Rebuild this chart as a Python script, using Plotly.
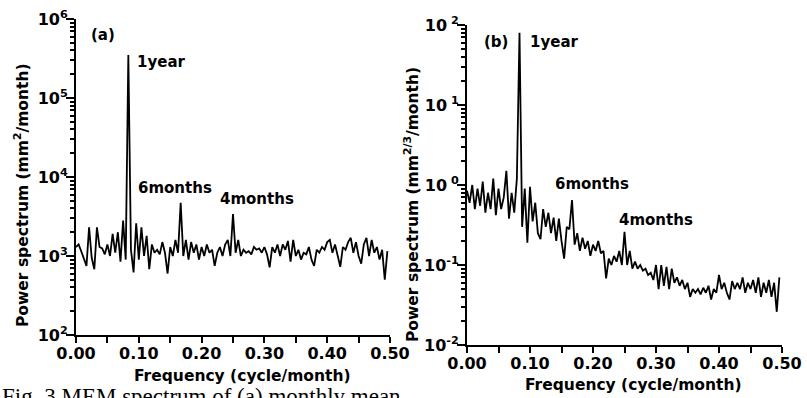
import plotly.graph_objects as go

# ---------------- data ----------------
N_STEPS = 240  # frequency step = 1/240 cycle/month
freq_a = [i / N_STEPS for i in range(120)]
power_a = [
    1300, 1400, 1150, 900, 750, 2300, 950, 680, 2300, 1300,
    1250, 1050, 1400, 1000, 1900, 1100, 2000, 850, 2800, 900,
    350000, 1200, 620, 2600, 900, 2300, 1000, 1800, 680, 1400,
    1100, 1200, 1050, 1500, 1100, 600, 1300, 1000, 1600, 1100,
    4700, 1000, 1600, 900, 1500, 1100, 1400, 900, 1300, 1000,
    1400, 1100, 1200, 750, 1100, 1300, 1000, 1400, 1600, 1000,
    3400, 1100, 1600, 1000, 1200, 1100, 1150, 1050, 1300, 1200,
    1250, 1100, 1300, 1050, 720, 1300, 1100, 1400, 1000, 1400,
    1200, 1550, 850, 1600, 1000, 1200, 900, 1100, 1050, 1300,
    900, 750, 1200, 1100, 1300, 1200, 1500, 1600, 1100, 1400,
    1000, 730, 1300, 1200, 1500, 1700, 1100, 1500, 1000, 800,
    1400, 1700, 1000, 1600, 1100, 1300, 900, 1200, 500, 1150,
]
freq_b = [i / N_STEPS for i in range(120)]
power_b = [
    0.85, 0.6, 1.0, 0.5, 0.9, 0.55, 1.1, 0.45, 0.8, 0.5,
    1.2, 0.42, 0.9, 0.5, 0.7, 1.5, 0.38, 0.8, 0.45, 1.2,
    80, 0.3, 0.9, 0.19, 0.95, 0.35, 0.6, 0.25, 0.21, 0.5,
    0.3, 0.45, 0.25, 0.39, 0.2, 0.38, 0.2, 0.12, 0.3, 0.28,
    0.65, 0.18, 0.25, 0.15, 0.22, 0.16, 0.2, 0.13, 0.18, 0.15,
    0.2, 0.14, 0.15, 0.068, 0.12, 0.1, 0.13, 0.11, 0.15, 0.1,
    0.26, 0.1, 0.15, 0.09, 0.11, 0.09, 0.1, 0.085, 0.09, 0.075,
    0.08, 0.065, 0.1, 0.05, 0.1, 0.055, 0.095, 0.05, 0.09, 0.06,
    0.07, 0.055, 0.065, 0.05, 0.06, 0.04, 0.05, 0.045, 0.05, 0.043,
    0.052, 0.045, 0.055, 0.037, 0.05, 0.045, 0.075, 0.05, 0.06, 0.045,
    0.037, 0.063, 0.05, 0.06, 0.05, 0.07, 0.045, 0.06, 0.05, 0.065,
    0.045, 0.07, 0.04, 0.06, 0.045, 0.065, 0.04, 0.06, 0.026, 0.07,
]
x_tickvals = [0.0, 0.1, 0.2, 0.3, 0.4, 0.5]
x_ticktext = ["0.00", "0.10", "0.20", "0.30", "0.40", "0.50"]
ya_tickvals = [1e2, 1e3, 1e4, 1e5, 1e6]
ya_ticktext = ["10<sup>2</sup>", "10<sup>3</sup>", "10<sup>4</sup>", "10<sup>5</sup>", "10<sup>6</sup>"]
yb_tickvals = [1e-2, 1e-1, 1e0, 1e1, 1e2]
yb_ticktext = ["10<sup>-2</sup>", "10<sup>-1</sup>", "10<sup> 0</sup>", "10<sup> 1</sup>", "10<sup> 2</sup>"]

# ---------------- figure ----------------
W, H = 807, 398
FONT = "DejaVu Sans"


def px(x):
    return x / W


def py(y):
    return 1 - y / H


fig = go.Figure()
fig.add_trace(go.Scatter(x=freq_a, y=power_a, mode="lines",
                         line=dict(color="black", width=1.8),
                         xaxis="x", yaxis="y", showlegend=False))
fig.add_trace(go.Scatter(x=freq_b, y=power_b, mode="lines",
                         line=dict(color="black", width=1.8),
                         xaxis="x2", yaxis="y2", showlegend=False))


def minor_log(lo, hi):
    vals = []
    for d in range(lo, hi):
        for k in range(2, 10):
            vals.append(k * 10.0 ** d)
    return vals


xcommon = dict(range=[0, 0.5], tickvals=x_tickvals, ticktext=x_ticktext,
               ticks="outside", ticklen=6, tickwidth=2, tickcolor="black",
               ticklabelstandoff=-3,
               showline=True, linecolor="black", linewidth=2,
               showgrid=False, zeroline=False, automargin=False,
               minor=dict(tickvals=[0.05, 0.15, 0.25, 0.35, 0.45], ticks="outside",
                          ticklen=6, tickwidth=2, tickcolor="black", showgrid=False),
               tickfont=dict(family=FONT, size=16, color="black", weight="bold"))

ycommon = dict(type="log", ticks="outside", ticklen=8, tickwidth=2, tickcolor="black",
               ticklabelstandoff=-5,
               showline=True, linecolor="black", linewidth=2,
               showgrid=False, zeroline=False, automargin=False,
               tickfont=dict(family=FONT, size=16, color="black", weight="bold"))

fig.update_layout(
    template="none",
    width=W, height=H,
    margin=dict(l=0, r=0, t=0, b=0, pad=0),
    paper_bgcolor="white", plot_bgcolor="white",
    font=dict(family=FONT, color="black"),
    xaxis=dict(domain=[px(76), px(390)], anchor="y", **xcommon),
    yaxis=dict(domain=[py(335), py(19)], anchor="x", range=[2, 6],
               tickvals=ya_tickvals, ticktext=ya_ticktext,
               minor=dict(tickvals=minor_log(2, 6), ticks="outside", ticklen=4,
                          tickwidth=1.5, tickcolor="black", showgrid=False),
               **ycommon),
    xaxis2=dict(domain=[px(467), px(782)], anchor="y2", **xcommon),
    yaxis2=dict(domain=[py(345), py(25)], anchor="x2", range=[-2, 2],
                tickvals=yb_tickvals, ticktext=yb_ticktext,
                minor=dict(tickvals=minor_log(-2, 2), ticks="outside", ticklen=4,
                           tickwidth=1.5, tickcolor="black", showgrid=False),
                **ycommon),
)


def label(text, x, y, size=15, angle=0, family=FONT, weight="bold", xanchor="center", yanchor="middle"):
    fig.add_annotation(text=text, x=px(x), y=py(y), xref="paper", yref="paper",
                       showarrow=False, textangle=angle, xanchor=xanchor, yanchor=yanchor,
                       font=dict(family=family, size=size, color="black", weight=weight))


# panel texts
label("(a)", 103, 35)
label("1year", 161, 62)
label("6months", 175, 188)
label("4months", 257, 199)
label("(b)", 496, 42)
label("1year", 554, 42)
label("6months", 592, 184)
label("4months", 656, 220)

# axis titles
label("Power spectrum (mm<sup>2</sup>/month)", 22, 195, size=15.5, angle=-90)
label("Power spectrum (mm<sup>2/3</sup>/month)", 412, 205, size=15.5, angle=-90)
label("Frequency (cycle/month)", 242, 376, size=15.5)
label("Frequency (cycle/month)", 633, 385, size=15.5)

# caption (cut off by the page edge, as in the scanned original)
label("Fig. 3 MEM spectrum of (a) monthly mean", 0, 382, size=23,
      family="Liberation Serif", weight="normal", xanchor="left", yanchor="top")

fig.write_html("out.html")
